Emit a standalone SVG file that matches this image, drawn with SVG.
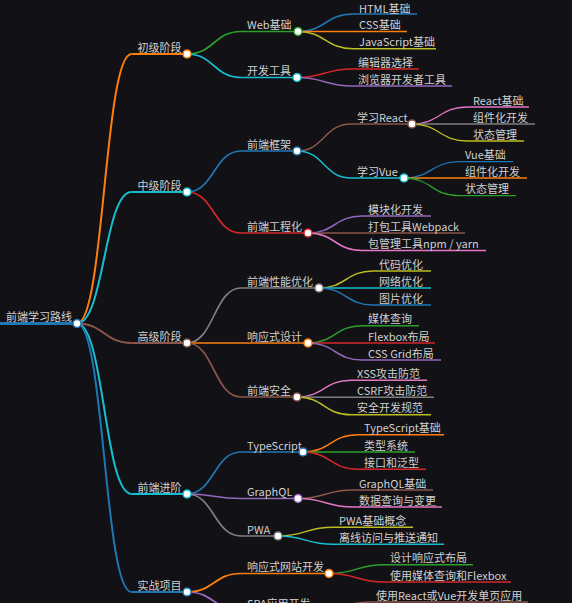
<svg xmlns="http://www.w3.org/2000/svg" width="572" height="603" viewBox="0 0 572 603">
<style>
.bg{fill:#111116}
path{fill:none}
.t{font-family:"Noto Sans CJK SC","Noto Sans",sans-serif;font-size:11px;fill:#d0d0d0}
circle{fill:#fff;stroke-width:1.5}
.blue{stroke:#1f77b4}.orange{stroke:#ff7f0e}.green{stroke:#2ca02c}.red{stroke:#d62728}.purple{stroke:#9467bd}
.brown{stroke:#8c564b}.pink{stroke:#e377c2}.gray{stroke:#7f7f7f}.olive{stroke:#bcbd22}.cyan{stroke:#17becf}
.d0{stroke-width:3}.d1{stroke-width:2}.d2{stroke-width:1.7}.d3{stroke-width:1.5}.d4{stroke-width:1.3}
</style>
<rect class="bg" x="0" y="0" width="572" height="603"/>
<g id="connectors">
<path class="orange d1" d="M77,323.5C104.25,323.5 104.25,54 131.5,54"/>
<path class="cyan d1" d="M77,323.5C104.25,323.5 104.25,192 131.5,192"/>
<path class="brown d1" d="M77,323.5C104.25,323.5 104.25,343 131.5,343"/>
<path class="cyan d1" d="M77,323.5C104.25,323.5 104.25,494 131.5,494"/>
<path class="blue d1" d="M77,323.5C104.25,323.5 104.25,592 131.5,592"/>
<path class="green d2" d="M187,54C214,54 214,31.5 241,31.5"/>
<path class="cyan d2" d="M187,54C214,54 214,77.5 241,77.5"/>
<path class="blue d2" d="M187,192C214,192 214,151 241,151"/>
<path class="red d2" d="M187,192C214,192 214,233 241,233"/>
<path class="gray d2" d="M187,343C214,343 214,288 241,288"/>
<path class="orange d2" d="M187,343C214,343 214,343 241,343"/>
<path class="brown d2" d="M187,343C214,343 214,397 241,397"/>
<path class="blue d2" d="M187,494C214,494 214,452 241,452"/>
<path class="purple d2" d="M187,494C214,494 214,498.5 241,498.5"/>
<path class="gray d2" d="M187,494C214,494 214,536 241,536"/>
<path class="orange d2" d="M187,592C214,592 214,573.5 241,573.5"/>
<path class="purple d2" d="M187,592C214,592 214,610.5 241,610.5"/>
<path class="blue d3" d="M298,31.5C325.5,31.5 325.5,14 353,14"/>
<path class="orange d3" d="M298,31.5C325.5,31.5 325.5,31.5 353,31.5"/>
<path class="olive d3" d="M298,31.5C325.5,31.5 325.5,48.7 353,48.7"/>
<path class="red d3" d="M297,77.5C324.5,77.5 324.5,69 352,69"/>
<path class="purple d3" d="M297,77.5C324.5,77.5 324.5,86 352,86"/>
<path class="brown d3" d="M297,151C324,151 324,124 351,124"/>
<path class="cyan d3" d="M297,151C324,151 324,178 351,178"/>
<path class="purple d3" d="M308,233C335,233 335,216 362,216"/>
<path class="brown d3" d="M308,233C335,233 335,233 362,233"/>
<path class="pink d3" d="M308,233C335,233 335,250.5 362,250.5"/>
<path class="olive d3" d="M319,288C346,288 346,271 373,271"/>
<path class="cyan d3" d="M319,288C346,288 346,288 373,288"/>
<path class="blue d3" d="M319,288C346,288 346,305 373,305"/>
<path class="green d3" d="M308,343C335,343 335,325.7 362,325.7"/>
<path class="red d3" d="M308,343C335,343 335,343 362,343"/>
<path class="purple d3" d="M308,343C335,343 335,360 362,360"/>
<path class="pink d3" d="M297,397C324,397 324,380.3 351,380.3"/>
<path class="gray d3" d="M297,397C324,397 324,397.3 351,397.3"/>
<path class="olive d3" d="M297,397C324,397 324,414.7 351,414.7"/>
<path class="orange d3" d="M303,452C330.5,452 330.5,434.7 358,434.7"/>
<path class="green d3" d="M303,452C330.5,452 330.5,452 358,452"/>
<path class="red d3" d="M303,452C330.5,452 330.5,469.3 358,469.3"/>
<path class="brown d3" d="M298,498.5C325.5,498.5 325.5,490 353,490"/>
<path class="pink d3" d="M298,498.5C325.5,498.5 325.5,507 353,507"/>
<path class="olive d3" d="M278,536C305.5,536 305.5,527.3 333,527.3"/>
<path class="cyan d3" d="M278,536C305.5,536 305.5,544.3 333,544.3"/>
<path class="green d3" d="M329,573.5C356.5,573.5 356.5,564.7 384,564.7"/>
<path class="red d3" d="M329,573.5C356.5,573.5 356.5,582 384,582"/>
<path class="brown d3" d="M316,610.5C343,610.5 343,602 370,602"/>
<path class="pink d4" d="M412,124C439.5,124 439.5,107 467,107"/>
<path class="gray d4" d="M412,124C439.5,124 439.5,124 467,124"/>
<path class="olive d4" d="M412,124C439.5,124 439.5,141 467,141"/>
<path class="blue d4" d="M404,178C431.5,178 431.5,161.7 459,161.7"/>
<path class="orange d4" d="M404,178C431.5,178 431.5,178 459,178"/>
<path class="green d4" d="M404,178C431.5,178 431.5,195.7 459,195.7"/>
</g>
<g id="root"><path class="blue d0" d="M0,323.5H77"/><circle class="blue" cx="77" cy="323.5" r="4"/><text class="t" x="6" y="321">前端学习路线</text></g>
<g id="n1"><path class="orange d1" d="M131.5,54H187"/><circle class="orange" cx="187" cy="54" r="4"/><text class="t" x="137.5" y="51.5">初级阶段</text></g>
<g id="n2"><path class="cyan d1" d="M131.5,192H187"/><circle class="cyan" cx="187" cy="192" r="4"/><text class="t" x="137.5" y="189.5">中级阶段</text></g>
<g id="n3"><path class="brown d1" d="M131.5,343H187"/><circle class="brown" cx="187" cy="343" r="4"/><text class="t" x="137.5" y="340.5">高级阶段</text></g>
<g id="n4"><path class="cyan d1" d="M131.5,494H187"/><circle class="cyan" cx="187" cy="494" r="4"/><text class="t" x="137.5" y="491.5">前端进阶</text></g>
<g id="n5"><path class="blue d1" d="M131.5,592H187"/><circle class="blue" cx="187" cy="592" r="4"/><text class="t" x="137.5" y="589.5">实战项目</text></g>
<g id="n1a"><path class="green d2" d="M241,31.5H298"/><circle class="green" cx="298" cy="31.5" r="4"/><text class="t" x="247" y="29">Web基础</text></g>
<g id="n1b"><path class="cyan d2" d="M241,77.5H297"/><circle class="cyan" cx="297" cy="77.5" r="4"/><text class="t" x="247" y="75">开发工具</text></g>
<g id="n2a"><path class="blue d2" d="M241,151H297"/><circle class="blue" cx="297" cy="151" r="4"/><text class="t" x="247" y="148.5">前端框架</text></g>
<g id="n2b"><path class="red d2" d="M241,233H308"/><circle class="red" cx="308" cy="233" r="4"/><text class="t" x="247" y="230.5">前端工程化</text></g>
<g id="n3a"><path class="gray d2" d="M241,288H319"/><circle class="gray" cx="319" cy="288" r="4"/><text class="t" x="247" y="285.5">前端性能优化</text></g>
<g id="n3b"><path class="orange d2" d="M241,343H308"/><circle class="orange" cx="308" cy="343" r="4"/><text class="t" x="247" y="340.5">响应式设计</text></g>
<g id="n3c"><path class="brown d2" d="M241,397H297"/><circle class="brown" cx="297" cy="397" r="4"/><text class="t" x="247" y="394.5">前端安全</text></g>
<g id="n4a"><path class="blue d2" d="M241,452H303"/><circle class="blue" cx="303" cy="452" r="4"/><text class="t" x="247" y="449.5">TypeScript</text></g>
<g id="n4b"><path class="purple d2" d="M241,498.5H298"/><circle class="purple" cx="298" cy="498.5" r="4"/><text class="t" x="247" y="496">GraphQL</text></g>
<g id="n4c"><path class="gray d2" d="M241,536H278"/><circle class="gray" cx="278" cy="536" r="4"/><text class="t" x="247" y="533.5">PWA</text></g>
<g id="n5a"><path class="orange d2" d="M241,573.5H329"/><circle class="orange" cx="329" cy="573.5" r="4"/><text class="t" x="247" y="571">响应式网站开发</text></g>
<g id="n5b"><path class="purple d2" d="M241,610.5H316"/><circle class="purple" cx="316" cy="610.5" r="4"/><text class="t" x="247" y="608">SPA应用开发</text></g>
<g id="n1a1"><path class="blue d3" d="M353,14H417"/><text class="t" x="359" y="12.8">HTML基础</text></g>
<g id="n1a2"><path class="orange d3" d="M353,31.5H407"/><text class="t" x="359" y="29">CSS基础</text></g>
<g id="n1a3"><path class="olive d3" d="M353,48.7H436"/><text class="t" x="359" y="46.2">JavaScript基础</text></g>
<g id="n1b1"><path class="red d3" d="M352,69H419"/><text class="t" x="358" y="66.5">编辑器选择</text></g>
<g id="n1b2"><path class="purple d3" d="M352,86H452"/><text class="t" x="358" y="83.5">浏览器开发者工具</text></g>
<g id="n2a1"><path class="brown d3" d="M351,124H412"/><circle class="brown" cx="412" cy="124" r="4"/><text class="t" x="357" y="121.5">学习React</text></g>
<g id="n2a2"><path class="cyan d3" d="M351,178H404"/><circle class="cyan" cx="404" cy="178" r="4"/><text class="t" x="357" y="175.5">学习Vue</text></g>
<g id="n2b1"><path class="purple d3" d="M362,216H431"/><text class="t" x="368" y="213.5">模块化开发</text></g>
<g id="n2b2"><path class="brown d3" d="M362,233H465"/><text class="t" x="368" y="230.5">打包工具Webpack</text></g>
<g id="n2b3"><path class="pink d3" d="M362,250.5H486"/><text class="t" x="368" y="248">包管理工具npm / yarn</text></g>
<g id="n3a1"><path class="olive d3" d="M373,271H431"/><text class="t" x="379" y="268.5">代码优化</text></g>
<g id="n3a2"><path class="cyan d3" d="M373,288H431"/><text class="t" x="379" y="285.5">网络优化</text></g>
<g id="n3a3"><path class="blue d3" d="M373,305H431"/><text class="t" x="379" y="302.5">图片优化</text></g>
<g id="n3b1"><path class="green d3" d="M362,325.7H419"/><text class="t" x="368" y="323.2">媒体查询</text></g>
<g id="n3b2"><path class="red d3" d="M362,343H435"/><text class="t" x="368" y="340.5">Flexbox布局</text></g>
<g id="n3b3"><path class="purple d3" d="M362,360H441"/><text class="t" x="368" y="357.5">CSS Grid布局</text></g>
<g id="n3c1"><path class="pink d3" d="M351,380.3H427"/><text class="t" x="357" y="377.8">XSS攻击防范</text></g>
<g id="n3c2"><path class="gray d3" d="M351,397.3H434"/><text class="t" x="357" y="394.8">CSRF攻击防范</text></g>
<g id="n3c3"><path class="olive d3" d="M351,414.7H431"/><text class="t" x="357" y="412.2">安全开发规范</text></g>
<g id="n4a1"><path class="orange d3" d="M358,434.7H444"/><text class="t" x="364" y="432.2">TypeScript基础</text></g>
<g id="n4a2"><path class="green d3" d="M358,452H415"/><text class="t" x="364" y="449.5">类型系统</text></g>
<g id="n4a3"><path class="red d3" d="M358,469.3H426"/><text class="t" x="364" y="466.8">接口和泛型</text></g>
<g id="n4b1"><path class="brown d3" d="M353,490H433"/><text class="t" x="359" y="487.5">GraphQL基础</text></g>
<g id="n4b2"><path class="pink d3" d="M353,507H442"/><text class="t" x="359" y="504.5">数据查询与变更</text></g>
<g id="n4c1"><path class="olive d3" d="M333,527.3H413"/><text class="t" x="339" y="524.8">PWA基础概念</text></g>
<g id="n4c2"><path class="cyan d3" d="M333,544.3H444"/><text class="t" x="339" y="541.8">离线访问与推送通知</text></g>
<g id="n5a1"><path class="green d3" d="M384,564.7H473"/><text class="t" x="390" y="562.2">设计响应式布局</text></g>
<g id="n5a2"><path class="red d3" d="M384,582H511"/><text class="t" x="390" y="579.5">使用媒体查询和Flexbox</text></g>
<g id="n5b1"><path class="brown d3" d="M370,602H528"/><text class="t" x="376" y="599.5">使用React或Vue开发单页应用</text></g>
<g id="n2a1a"><path class="pink d4" d="M467,107H529"/><text class="t" x="473" y="104.5">React基础</text></g>
<g id="n2a1b"><path class="gray d4" d="M467,124H535"/><text class="t" x="473" y="121.5">组件化开发</text></g>
<g id="n2a1c"><path class="olive d4" d="M467,141H524"/><text class="t" x="473" y="138.5">状态管理</text></g>
<g id="n2a2a"><path class="blue d4" d="M459,161.7H513"/><text class="t" x="465" y="159.2">Vue基础</text></g>
<g id="n2a2b"><path class="orange d4" d="M459,178H527"/><text class="t" x="465" y="175.5">组件化开发</text></g>
<g id="n2a2c"><path class="green d4" d="M459,195.7H516"/><text class="t" x="465" y="193.2">状态管理</text></g>
</svg>
